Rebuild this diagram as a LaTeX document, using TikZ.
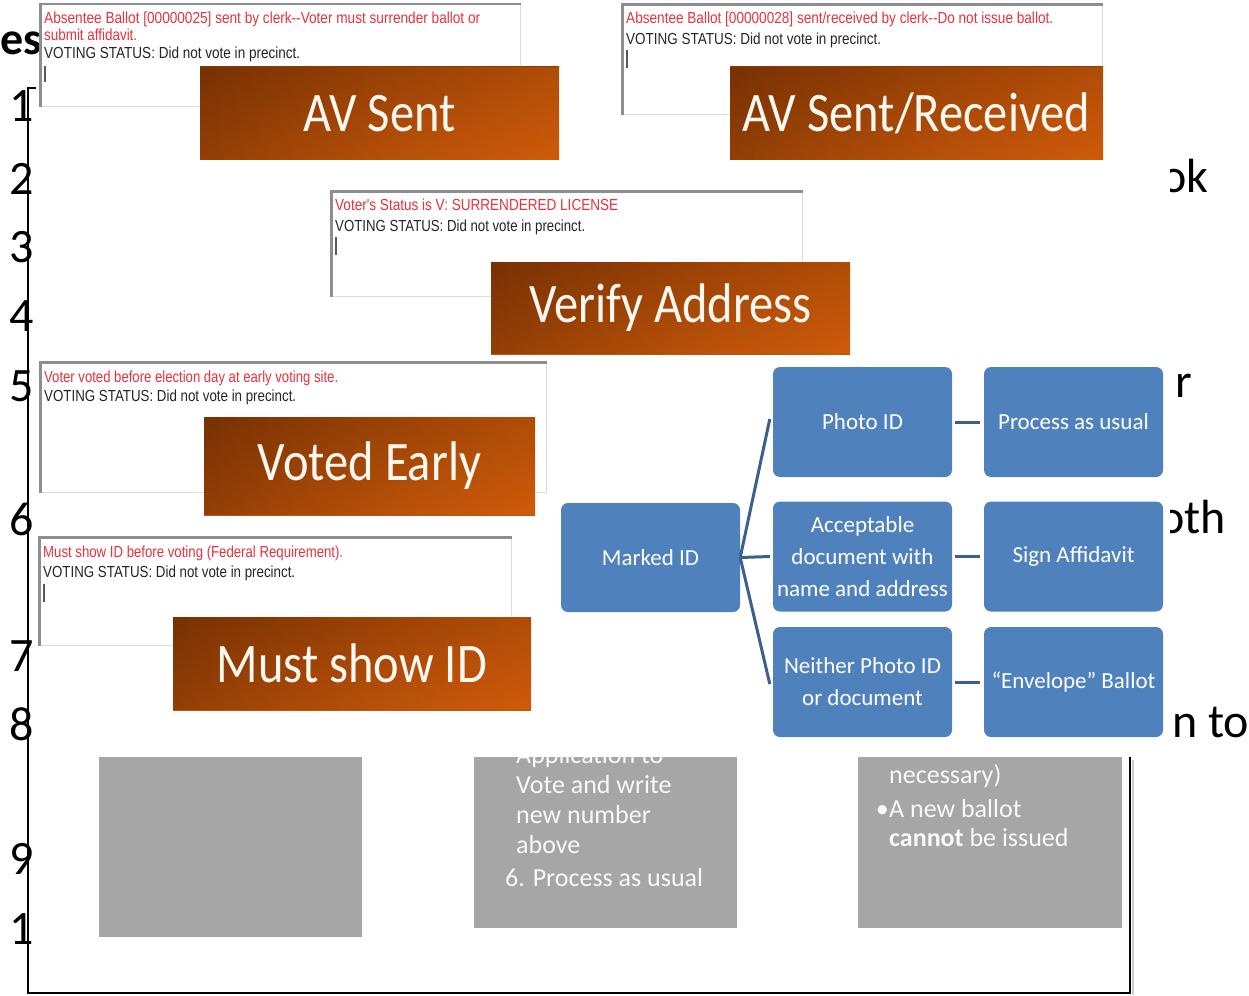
\documentclass[tikz,border=0pt]{standalone}
\usepackage{fontspec}
\usepackage{graphicx}
\setmainfont{Carlito}
\newfontfamily\arialfont{Liberation Sans}
\usetikzlibrary{fadings}
\definecolor{avblue}{HTML}{4F81BD}
\definecolor{linkblue}{HTML}{3C5F8E}
\definecolor{panelgray}{HTML}{A6A6A6}
\definecolor{msgred}{HTML}{E8323C}
\definecolor{msgblack}{HTML}{262626}
\definecolor{rimgray}{HTML}{8E8E8E}
\definecolor{edgegray}{HTML}{DCDCDC}
\definecolor{bannertop}{HTML}{8C3B05}
\definecolor{bannerbottom}{HTML}{BF540A}
\definecolor{bannershade}{HTML}{5E2602}
\definecolor{bannerglow}{HTML}{E8680D}
\definecolor{bannerink}{HTML}{FFF8F0}
\newcommand{\fsz}[1]{\fontsize{#1}{#1}\selectfont}
% one line of a status message, squeezed to a given width
\newcommand{\msgline}[3]{\resizebox{#1pt}{\height}{\color{#2}\arialfont\fsz{16}#3}}
% banner caption, set a little taller than the plain font
\newcommand{\tall}[1]{\scalebox{1}[1.15]{#1}}
\tikzset{
  slide/.style={font=\fsz{48}, text=black, inner sep=0pt, anchor=base west},
  paneltext/.style={font=\fontsize{26}{30}\selectfont, text=white!95!gray, inner sep=0pt, anchor=base west},
  msgtext/.style={inner sep=0pt, anchor=base west},
  shotbox/.style={fill=white, draw=edgegray, line width=1pt, inner sep=0pt},
  rim/.style={draw=rimgray, line width=2.5pt},
  cursor/.style={draw=gray!70!black, line width=1.2pt},
  orangebox/.style={top color=bannertop, bottom color=bannerbottom,
    path picture={
      \fill[bannershade, path fading=east, fill opacity=0.45]
        (path picture bounding box.south west) rectangle (path picture bounding box.north east);
      \fill[bannerglow, path fading=west, fill opacity=0.4]
        (path picture bounding box.south west) rectangle (path picture bounding box.north east);
    },
    text=bannerink, font=\fsz{48.5}, inner sep=0pt},
  stepnode/.style={rounded corners=7pt, fill=avblue, text=white, align=center,
    minimum width=179pt, minimum height=110pt, inner sep=2pt, font=\fontsize{23}{32}\selectfont},
  link/.style={draw=linkblue, line width=3pt},
  frame/.style={draw=black, line width=2pt},
  panel/.style={fill=panelgray, draw=none, inner sep=0pt}
}
\begin{document}
\begin{tikzpicture}[x=1pt, y=-1pt]
\useasboundingbox[fill=white] (0,0) rectangle (1249,995);

% ---- slide underneath: frame, numbering, text fragments, grey panels ----
\draw[frame] (36,88) -- (28,88) -- (28,993) -- (1130,993) -- (1130,757);
\draw[draw=gray!40, line width=2pt] (1133,760) -- (1133,995);

\node[slide, font=\bfseries\fsz{46}] (es) at (0,55) {es};
\node[slide] (n1) at (9,122) {1};
\node[slide] (n2) at (9,194) {2};
\node[slide] (n3) at (9,262) {3};
\node[slide] (n4) at (9,331) {4};
\node[slide] (n5) at (9,401) {5};
\node[slide] (n6) at (9,535) {6};
\node[slide] (n7) at (9,671) {7};
\node[slide] (n8) at (9,740) {8};
\node[slide] (n9) at (9,874) {9};
\node[slide] (n10) at (9,944) {1};

\begin{scope}
  \clip (1170,0) rectangle (1249,995);
  \node[slide] (fragA) at (1161,193) {ok};
  \node[slide] (fragB) at (1175,397) {r};
  \node[slide] (fragC) at (1159,533) {oth};
  \node[slide] (fragD) at (1172,737) {n to};
\end{scope}

\path[panel] (99,757) rectangle (362,937);
\path[panel] (474,757) rectangle (737,928);
\path[panel] (858,757) rectangle (1122,928);
\begin{scope}
  \clip (474,757) rectangle (737,928);
  \node[paneltext] (p2a) at (516,763) {Application to};
\end{scope}
\node[paneltext] (p2b) at (516,793) {Vote and write};
\node[paneltext] (p2c) at (516,823) {new number};
\node[paneltext] (p2d) at (516,853) {above};
\node[paneltext] (p2e) at (505,886) {6. Process as usual};
\node[paneltext] (p3a) at (889,783) {necessary)};
\node[paneltext, anchor=base east] (p3b) at (889,817) {•};
\node[paneltext] (p3c) at (889,817) {A new ballot};
\node[paneltext] (p3d) at (889,846) {\textbf{cannot} be issued};

% ---- status message screens ----
\node[shotbox, minimum width=479pt, minimum height=102pt] (scrA) at (280.5,55.5) {};
\draw[rim] (scrA.south west) -- (scrA.north west) -- (scrA.north east);
\node[msgtext] (scrA1) at (44,24) {\msgline{436}{msgred}{Absentee Ballot [00000025] sent by clerk--Voter must surrender ballot or}};
\node[msgtext] (scrA2) at (44,41) {\msgline{93}{msgred}{submit affidavit.}};
\node[msgtext] (scrA3) at (44,59) {\msgline{256}{msgblack}{VOTING STATUS: Did not vote in precinct.}};
\draw[cursor] (45,66) -- (45,82);

\node[shotbox, minimum width=479pt, minimum height=110pt] (scrB) at (862.5,60) {};
\draw[rim] (scrB.south west) -- (scrB.north west) -- (scrB.north east);
\node[msgtext] (scrB1) at (626,24) {\msgline{427}{msgred}{Absentee Ballot [00000028] sent/received by clerk--Do not issue ballot.}};
\node[msgtext] (scrB2) at (626,45) {\msgline{255}{msgblack}{VOTING STATUS: Did not vote in precinct.}};
\draw[cursor] (627,50) -- (627,68);

\node[shotbox, minimum width=470pt, minimum height=104pt] (scrC) at (567,244) {};
\draw[rim] (scrC.south west) -- (scrC.north west) -- (scrC.north east);
\node[msgtext] (scrC1) at (335,211) {\msgline{283}{msgred}{Voter's Status is V: SURRENDERED LICENSE}};
\node[msgtext] (scrC2) at (335,231) {\msgline{250}{msgblack}{VOTING STATUS: Did not vote in precinct.}};
\draw[cursor] (336,237) -- (336,255);

\node[shotbox, minimum width=505pt, minimum height=129pt] (scrD) at (293.5,427.5) {};
\draw[rim] (scrD.south west) -- (scrD.north west) -- (scrD.north east);
\node[msgtext] (scrD1) at (44,382) {\msgline{294}{msgred}{Voter voted before election day at early voting site.}};
\node[msgtext] (scrD2) at (44,401) {\msgline{252}{msgblack}{VOTING STATUS: Did not vote in precinct.}};

\node[shotbox, minimum width=471pt, minimum height=107pt] (scrE) at (275.5,591.5) {};
\draw[rim] (scrE.south west) -- (scrE.north west) -- (scrE.north east);
\node[msgtext] (scrE1) at (43,557) {\msgline{300}{msgred}{Must show ID before voting (Federal Requirement).}};
\node[msgtext] (scrE2) at (43,577) {\msgline{252}{msgblack}{VOTING STATUS: Did not vote in precinct.}};
\draw[cursor] (44,584) -- (44,602);

% ---- orange banners ----
\node[orangebox, minimum width=359pt, minimum height=93pt] (avsent) at (379.5,113.5) {\tall{AV Sent}};
\node[orangebox, minimum width=373pt, minimum height=93pt] (avrec) at (916.5,113.5) {\tall{AV Sent/Received}};
\node[orangebox, minimum width=359pt, minimum height=92pt] (verify) at (670.5,308) {\tall{Verify Address}};
\node[orangebox, minimum width=331pt, minimum height=98pt] (early) at (369.5,466) {\raisebox{-3pt}{\tall{Voted Early}}};
\node[orangebox, minimum width=358pt, minimum height=93pt] (showid) at (352,663.5) {\tall{Must show ID}};

% ---- ID decision chart ----
\node[stepnode, minimum height=109pt] (marked) at (650.5,557.5) {Marked ID};
\node[stepnode] (photo) at (862.5,422) {Photo ID};
\node[stepnode] (accept) at (862.5,556.5) {Acceptable\\document with\\name and address};
\node[stepnode] (neither) at (862.5,682) {Neither Photo ID\\or document};
\node[stepnode] (usual) at (1073.5,422) {Process as usual};
\node[stepnode] (affid) at (1073.5,556.5) {Sign Affidavit};
\node[stepnode] (envel) at (1073.5,682) {“Envelope” Ballot};

\draw[link] (marked.east) -- ([xshift=-3pt, yshift=3pt]photo.west);
\draw[link] (marked.east) -- ([xshift=-3pt]accept.west);
\draw[link] (marked.east) -- ([xshift=-3pt, yshift=-2pt]neither.west);
\draw[link, shorten <=3pt, shorten >=4pt] (photo.east) -- (usual.west);
\draw[link, shorten <=3pt, shorten >=4pt] (accept.east) -- (affid.west);
\draw[link, shorten <=3pt, shorten >=4pt] (neither.east) -- (envel.west);
\end{tikzpicture}
\end{document}
